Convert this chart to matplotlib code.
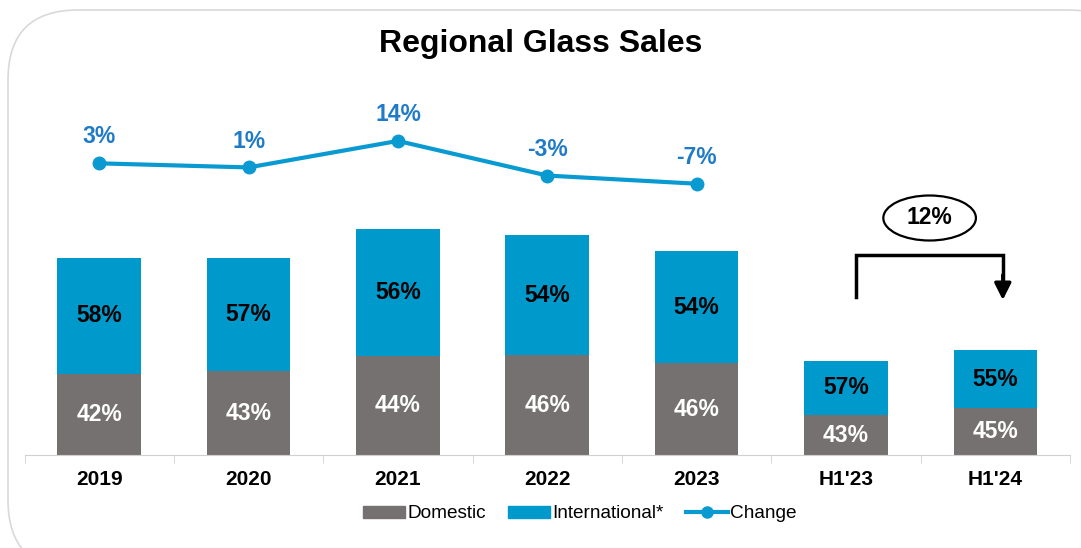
import matplotlib
matplotlib.use("Agg")
import matplotlib.pyplot as plt
from matplotlib.patches import FancyBboxPatch, Ellipse
from matplotlib.lines import Line2D
from matplotlib.patches import Patch
import numpy as np

plt.rcParams['font.family'] = ['Liberation Sans', 'DejaVu Sans']

# data (bar heights in relative units)
categories = ["2019", "2020", "2021", "2022", "2023", "H1'23", "H1'24"]
domestic = [81, 84, 99, 100, 92, 40, 47]
international = [116, 113, 127, 120, 112, 54, 58]
domestic_pct = ["42%", "43%", "44%", "46%", "46%", "43%", "45%"]
international_pct = ["58%", "57%", "56%", "54%", "54%", "57%", "55%"]
change = [3, 1, 14, -3, -7]
change_labels = ["3%", "1%", "14%", "-3%", "-7%"]
h1_growth = "12%"

grey = "#767171"
blue = "#0099CC"
line_blue = "#0A9AD2"
label_blue = "#1F7BC8"

W, H = 1081, 548
fig = plt.figure(figsize=(W / 100, H / 100), dpi=100)

# rounded frame behind everything
bg = fig.add_axes([0, 0, 1, 1])
bg.set_xlim(0, W)
bg.set_ylim(H, 0)
bg.axis("off")
bg.add_patch(FancyBboxPatch((8, 10), 1130, 560, boxstyle="round,pad=0,rounding_size=70",
                            fc="white", ec="#d9d9d9", lw=1.2))

left, right = 24.6 / W, 1070 / W
bottom, top = (H - 455) / H, (H - 100) / H
ax = fig.add_axes([left, bottom, right - left, top - bottom])
ax.patch.set_alpha(0)
x = np.arange(len(categories))
width = 0.56
ax.bar(x, domestic, width, color=grey, edgecolor="none")
ax.bar(x, international, width, bottom=domestic, color=blue, edgecolor="none")
for i in range(len(categories)):
    ax.text(x[i], domestic[i] / 2, domestic_pct[i], ha="center", va="center",
            color="white", fontsize=16.5, fontweight="bold")
    ax.text(x[i], domestic[i] + international[i] / 2, international_pct[i], ha="center",
            va="center", color="black", fontsize=16.5, fontweight="bold")

ax.set_xlim(-0.5, len(categories) - 0.5)
ax.set_ylim(0, 355)
ax.set_yticks([])
for s in ["top", "right", "left"]:
    ax.spines[s].set_visible(False)
ax.spines["bottom"].set_color("#d0d0d0")
ax.set_xticks(x)
ax.set_xticklabels(categories, fontsize=15, fontweight="bold")
ax.tick_params(axis="x", which="major", length=0, pad=11)
ax.set_xticks(np.arange(-0.5, len(categories), 1), minor=True)
ax.tick_params(axis="x", which="minor", length=6, color="#d0d0d0")

# bracket with arrow and growth bubble
ax.plot([5.07, 5.07, 6.05, 6.05], [158, 200, 200, 175], color="black", lw=2.5,
        solid_joinstyle="miter")
ax.annotate("", xy=(6.05, 155), xytext=(6.05, 180),
            arrowprops=dict(arrowstyle="-|>,head_length=1.0,head_width=0.5",
                            color="black", lw=2.5, shrinkA=0, shrinkB=0))
ax.add_patch(Ellipse((5.56, 237), 0.62, 45, fc="white", ec="black", lw=1.6))
ax.text(5.56, 237, h1_growth, ha="center", va="center", fontsize=16.5, fontweight="bold")

# change line on its own scale
ax2 = ax.twinx()
ax2.set_ylim(-140.2, 34.1)
ax2.axis("off")
xl = x[:len(change)]
ax2.plot(xl, change, color=line_blue, lw=3, marker="o", markersize=9)
for xi, v, t in zip(xl, change, change_labels):
    ax2.annotate(t, (xi, v), xytext=(0, 19), textcoords="offset points", ha="center",
                 va="center", color=label_blue, fontsize=16.5, fontweight="bold")

fig.text(0.5, 1 - 44 / H, "Regional Glass Sales", ha="center", va="center",
         fontsize=23, fontweight="bold")

handles = [Patch(color=grey, label="Domestic"),
           Patch(color=blue, label="International*"),
           Line2D([0], [0], color=line_blue, lw=3, marker="o", markersize=8, label="Change")]
fig.legend(handles=handles, loc="center", bbox_to_anchor=(580 / W, 1 - 514 / H), ncol=3,
           frameon=False, fontsize=13.7, handlelength=2.2, handleheight=0.6,
           handletextpad=0.1, columnspacing=1.2)

fig.savefig("out.png", dpi=100)
